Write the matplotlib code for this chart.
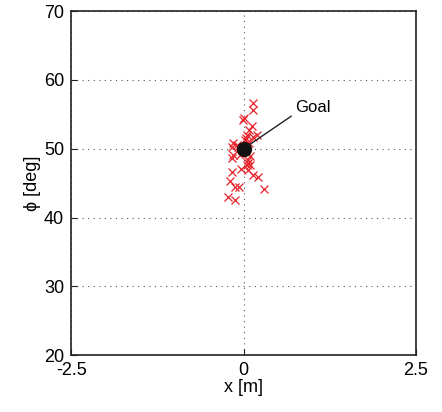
import numpy as np
import matplotlib as mpl
mpl.use('agg')
import matplotlib.pyplot as plt

plt.rcParams['font.family'] = ['Liberation Sans', 'DejaVu Sans']

## final positions of each trial
x_m = [0.14, 0.14, 0.00, -0.01, 0.12, 0.08, 0.05, 0.19, 0.13, 0.02,
       -0.15, -0.17, -0.10, -0.05, -0.15, -0.17, 0.07, 0.05, 0.09, -0.03,
       0.07, 0.14, 0.21, -0.17, -0.19, -0.12, -0.07, 0.29, -0.22, -0.12,
       0.03, 0.08, 0.10, -0.08, 0.06]
phi_deg = [56.7, 55.7, 54.5, 54.2, 53.3, 52.7, 52.0, 52.0, 51.7, 51.2,
           50.8, 50.2, 50.5, 49.1, 49.1, 48.6, 48.3, 47.6, 47.6, 47.1,
           46.9, 46.2, 45.9, 46.6, 45.3, 44.4, 44.4, 44.2, 43.0, 42.5,
           51.5, 50.9, 48.9, 50.3, 47.9]
goal = (0.0, 50.0)

fig = plt.figure(figsize=(4.42, 4.12), dpi=100)
ax = fig.add_axes([0.161, 0.138, 0.78, 0.835])

ax.plot(x_m, phi_deg, 'x', color='#e8222a', markersize=5.5, markeredgewidth=0.9)
ax.plot(goal[0], goal[1], 'o', color='#111111', markersize=10)

ax.annotate('Goal', xy=goal, xytext=(0.75, 56.0), fontsize=12,
            va='center', ha='left',
            arrowprops=dict(arrowstyle='-', color='#222222', lw=1.0,
                            shrinkA=1, shrinkB=4, relpos=(0, 0.1)))

ax.set_xlim(-2.5, 2.5)
ax.set_ylim(20, 70)
ax.set_xticks([-2.5, 0, 2.5])
ax.set_xticklabels(['-2.5', '0', '2.5'])
ax.set_yticks([20, 30, 40, 50, 60, 70])
ax.grid(True, linestyle=(0, (1, 4)), color='#555555', linewidth=0.8)
ax.tick_params(direction='in', labelsize=13, length=4, color='#222222')
ax.tick_params(axis='x', pad=5)
ax.tick_params(axis='y', pad=5)
for s in ax.spines.values():
    s.set_linewidth(1.2)
    s.set_color('#222222')

ax.set_xlabel('x [m]', fontsize=13, labelpad=0)
ax.set_ylabel('ϕ [deg]', fontsize=13, labelpad=2)

fig.savefig('out.png', dpi=100)
